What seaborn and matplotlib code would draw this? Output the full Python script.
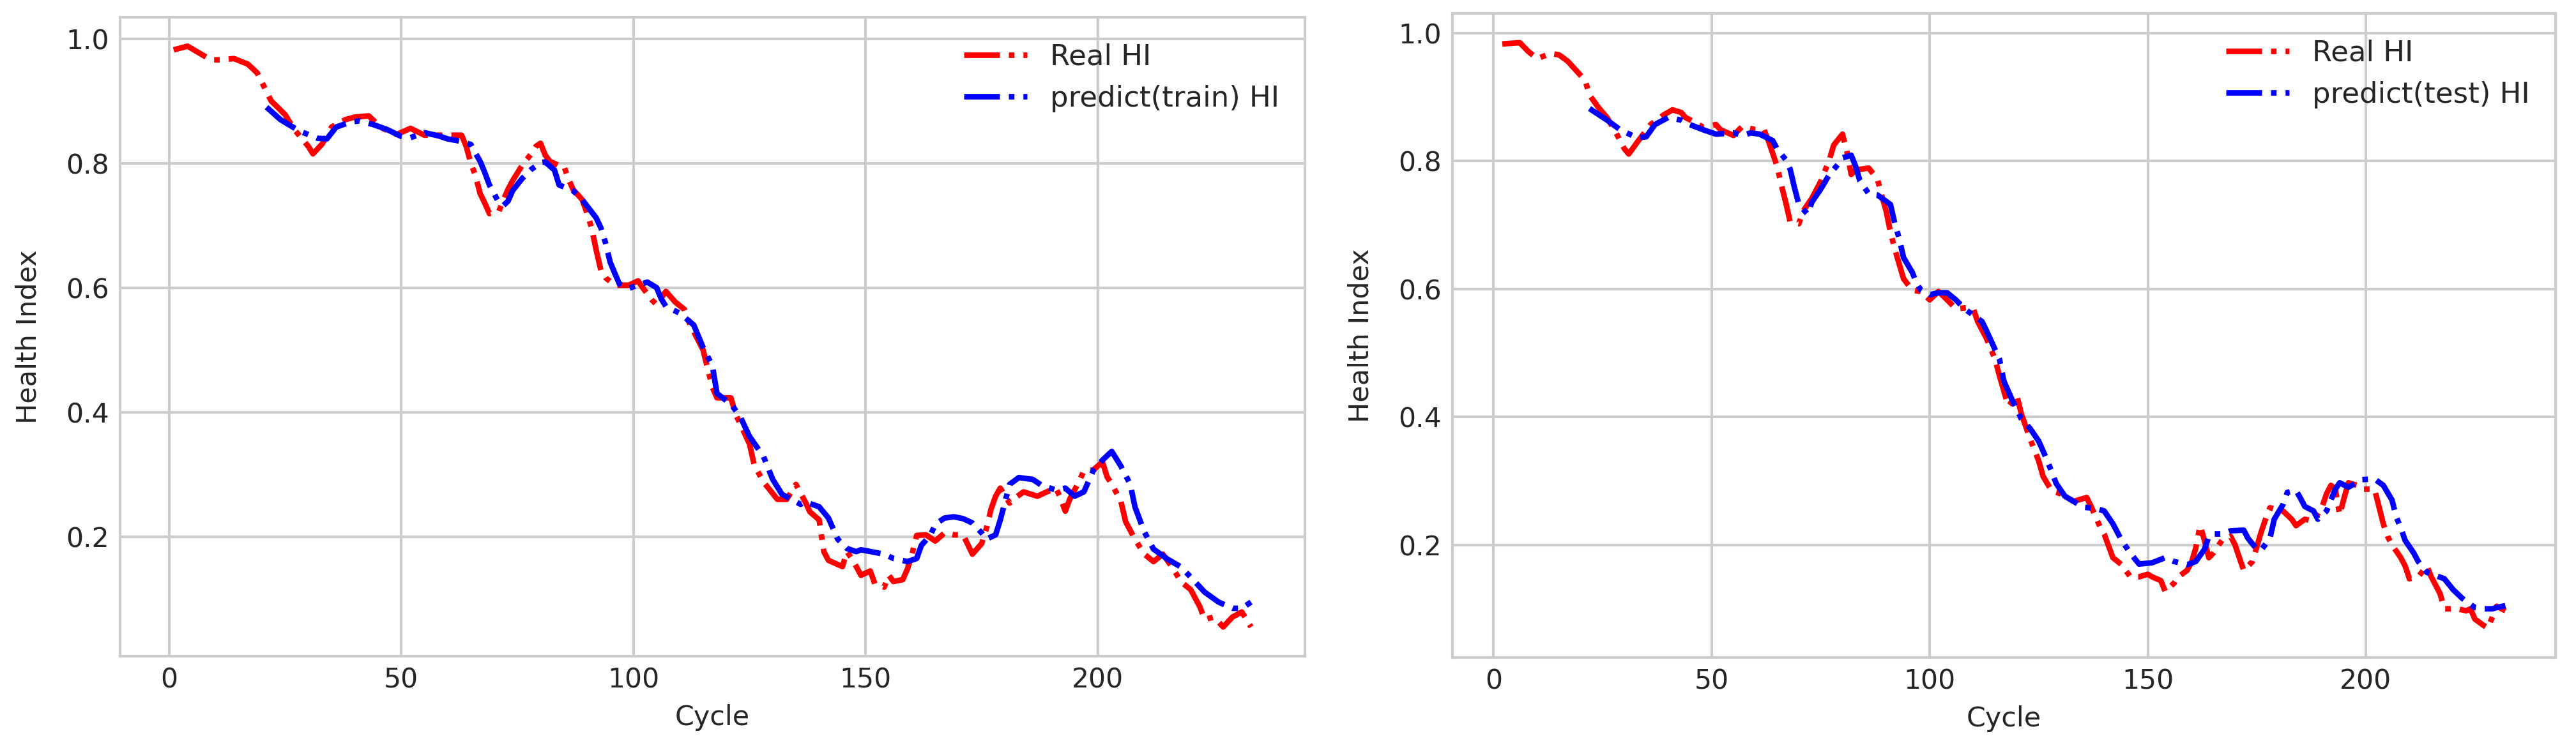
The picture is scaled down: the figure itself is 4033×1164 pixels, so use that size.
import matplotlib
matplotlib.use("Agg")
import matplotlib.pyplot as plt
import seaborn as sns
import pandas as pd

# ---------------- data ----------------
train_real_cycle = [1, 4, 9, 11, 14, 17, 19, 22, 25, 27, 30, 31, 33, 35, 38, 40, 43, 45, 46, 49,
                    52, 55, 57, 60, 63, 64, 65, 66, 67, 68, 69, 71, 72, 73, 74, 76, 78, 79, 80, 81,
                    82, 84, 85, 86, 87, 89, 90, 91, 92, 93, 94, 96, 99, 101, 102, 104, 105, 107, 109, 111,
                    112, 115, 117, 118, 121, 122, 124, 125, 126, 128, 131, 133, 135, 137, 138, 140, 141, 142, 145, 146,
                    147, 148, 149, 151, 152, 154, 155, 156, 158, 159, 160, 161, 163, 165, 167, 169, 171, 173, 175, 176,
                    177, 178, 179, 181, 182, 184, 187, 189, 191, 192, 193, 194, 196, 197, 199, 201, 202, 203, 205, 206,
                    208, 210, 212, 214, 216, 218, 220, 222, 223, 225, 227, 229, 231, 233]
train_real_hi = [0.982, 0.988, 0.966, 0.966, 0.968, 0.959, 0.945, 0.900, 0.878, 0.854, 0.827, 0.815, 0.831, 0.858, 0.870, 0.874, 0.876, 0.862, 0.856, 0.846,
                 0.856, 0.845, 0.845, 0.845, 0.845, 0.827, 0.800, 0.780, 0.751, 0.736, 0.719, 0.722, 0.741, 0.758, 0.772, 0.796, 0.815, 0.827, 0.832, 0.813,
                 0.803, 0.796, 0.796, 0.775, 0.758, 0.741, 0.720, 0.696, 0.660, 0.628, 0.616, 0.604, 0.604, 0.611, 0.600, 0.580, 0.573, 0.594, 0.577, 0.565,
                 0.544, 0.500, 0.440, 0.423, 0.423, 0.397, 0.365, 0.349, 0.316, 0.288, 0.260, 0.260, 0.284, 0.256, 0.240, 0.227, 0.176, 0.162, 0.152, 0.176,
                 0.165, 0.152, 0.138, 0.145, 0.124, 0.119, 0.138, 0.128, 0.131, 0.148, 0.172, 0.202, 0.203, 0.193, 0.206, 0.203, 0.203, 0.172, 0.189, 0.213,
                 0.244, 0.265, 0.278, 0.254, 0.261, 0.272, 0.265, 0.272, 0.278, 0.261, 0.241, 0.261, 0.289, 0.306, 0.307, 0.320, 0.296, 0.285, 0.256, 0.224,
                 0.196, 0.172, 0.160, 0.172, 0.151, 0.127, 0.115, 0.087, 0.067, 0.071, 0.055, 0.071, 0.079, 0.055]

train_pred_cycle = [21, 24, 28, 32, 34, 36, 39, 41, 44, 47, 50, 52, 55, 58, 60, 63, 65, 66, 67, 68,
                    69, 71, 72, 73, 74, 76, 78, 80, 81, 83, 84, 87, 89, 92, 93, 94, 95, 96, 97, 99,
                    101, 103, 105, 106, 107, 110, 113, 115, 117, 118, 121, 123, 125, 128, 130, 132, 136, 137, 140, 142,
                    144, 146, 148, 149, 154, 156, 159, 161, 162, 164, 165, 167, 169, 171, 173, 175, 176, 178, 179, 180,
                    181, 183, 186, 188, 191, 193, 195, 197, 198, 199, 201, 203, 205, 207, 208, 210, 212, 215, 218, 220,
                    223, 226, 229, 231, 233]
train_pred_hi = [0.890, 0.870, 0.852, 0.840, 0.839, 0.858, 0.866, 0.868, 0.862, 0.854, 0.843, 0.841, 0.849, 0.844, 0.839, 0.835, 0.830, 0.816, 0.803, 0.785,
                 0.765, 0.737, 0.732, 0.739, 0.756, 0.775, 0.790, 0.801, 0.802, 0.789, 0.765, 0.756, 0.741, 0.712, 0.696, 0.672, 0.641, 0.623, 0.606, 0.599,
                 0.604, 0.609, 0.600, 0.582, 0.570, 0.559, 0.540, 0.504, 0.475, 0.430, 0.413, 0.393, 0.361, 0.329, 0.292, 0.268, 0.252, 0.256, 0.248, 0.230,
                 0.196, 0.181, 0.176, 0.179, 0.172, 0.165, 0.160, 0.165, 0.186, 0.203, 0.220, 0.230, 0.232, 0.229, 0.222, 0.206, 0.196, 0.203, 0.227, 0.255,
                 0.284, 0.295, 0.292, 0.282, 0.275, 0.278, 0.265, 0.272, 0.289, 0.306, 0.323, 0.337, 0.313, 0.284, 0.248, 0.208, 0.180, 0.164, 0.151, 0.135,
                 0.111, 0.095, 0.085, 0.085, 0.095]

test_real_cycle = [2, 6, 8, 10, 13, 15, 17, 19, 21, 22, 24, 26, 28, 30, 31, 33, 36, 39, 41, 43,
                   44, 46, 48, 51, 52, 55, 57, 60, 62, 63, 64, 65, 66, 67, 68, 70, 71, 73, 75, 77,
                   78, 80, 81, 82, 83, 86, 88, 89, 90, 91, 92, 93, 94, 96, 98, 100, 102, 104, 106, 109,
                   110, 111, 112, 113, 115, 116, 118, 120, 121, 123, 125, 126, 128, 130, 133, 136, 137, 139, 140, 142,
                   144, 146, 148, 150, 151, 153, 154, 156, 157, 159, 160, 161, 162, 163, 164, 165, 167, 169, 170, 171,
                   172, 174, 175, 176, 177, 178, 181, 183, 184, 186, 188, 190, 191, 192, 193, 194, 195, 196, 198, 199,
                   202, 203, 204, 205, 206, 208, 209, 210, 212, 214, 215, 217, 218, 221, 223, 224, 225, 227, 228, 229,
                   230, 232]
test_real_hi = [0.983, 0.985, 0.971, 0.960, 0.968, 0.966, 0.956, 0.941, 0.926, 0.903, 0.884, 0.868, 0.845, 0.819, 0.811, 0.830, 0.857, 0.872, 0.880, 0.876,
                0.868, 0.861, 0.853, 0.857, 0.849, 0.840, 0.854, 0.849, 0.849, 0.832, 0.812, 0.792, 0.762, 0.735, 0.705, 0.702, 0.722, 0.742, 0.768, 0.802,
                0.825, 0.842, 0.815, 0.779, 0.786, 0.789, 0.772, 0.746, 0.722, 0.689, 0.662, 0.639, 0.616, 0.598, 0.596, 0.583, 0.596, 0.583, 0.569, 0.571,
                0.569, 0.549, 0.536, 0.523, 0.490, 0.464, 0.417, 0.433, 0.405, 0.366, 0.331, 0.307, 0.284, 0.280, 0.268, 0.274, 0.260, 0.229, 0.217, 0.180,
                0.169, 0.150, 0.150, 0.154, 0.150, 0.144, 0.127, 0.140, 0.150, 0.160, 0.172, 0.195, 0.230, 0.207, 0.180, 0.187, 0.207, 0.213, 0.200, 0.180,
                0.160, 0.174, 0.197, 0.220, 0.240, 0.258, 0.253, 0.240, 0.230, 0.240, 0.237, 0.260, 0.280, 0.293, 0.287, 0.247, 0.273, 0.297, 0.293, 0.287,
                0.287, 0.260, 0.233, 0.213, 0.200, 0.180, 0.167, 0.147, 0.150, 0.167, 0.150, 0.124, 0.100, 0.100, 0.097, 0.100, 0.084, 0.074, 0.070, 0.087,
                0.104, 0.097]

test_pred_cycle = [22, 26, 29, 33, 35, 37, 40, 43, 45, 48, 51, 55, 57, 59, 61, 64, 65, 67, 68, 69,
                   70, 72, 73, 75, 77, 79, 80, 82, 83, 84, 85, 86, 88, 91, 92, 93, 94, 96, 97, 98,
                   100, 102, 104, 106, 108, 110, 112, 113, 116, 117, 119, 121, 123, 125, 127, 129, 131, 133, 135, 138,
                   140, 142, 144, 146, 148, 151, 154, 156, 159, 161, 163, 164, 165, 167, 169, 172, 173, 175, 176, 178,
                   179, 181, 182, 184, 185, 186, 188, 189, 191, 192, 193, 194, 196, 199, 202, 204, 206, 207, 208, 209,
                   211, 212, 214, 216, 218, 220, 222, 224, 225, 227, 229, 230, 232]
test_pred_hi = [0.882, 0.864, 0.849, 0.836, 0.838, 0.857, 0.868, 0.864, 0.857, 0.849, 0.842, 0.844, 0.840, 0.844, 0.842, 0.832, 0.819, 0.802, 0.787, 0.758,
                0.732, 0.717, 0.736, 0.756, 0.779, 0.795, 0.805, 0.809, 0.792, 0.769, 0.759, 0.749, 0.747, 0.732, 0.702, 0.679, 0.649, 0.626, 0.609, 0.598,
                0.591, 0.594, 0.594, 0.583, 0.569, 0.559, 0.549, 0.535, 0.490, 0.456, 0.425, 0.397, 0.382, 0.362, 0.331, 0.296, 0.276, 0.268, 0.259, 0.257,
                0.253, 0.233, 0.207, 0.187, 0.170, 0.172, 0.180, 0.174, 0.169, 0.174, 0.193, 0.213, 0.217, 0.217, 0.222, 0.223, 0.210, 0.193, 0.192, 0.210,
                0.240, 0.263, 0.282, 0.285, 0.273, 0.260, 0.253, 0.240, 0.253, 0.270, 0.287, 0.297, 0.290, 0.302, 0.303, 0.293, 0.270, 0.243, 0.227, 0.207,
                0.187, 0.174, 0.157, 0.152, 0.147, 0.130, 0.117, 0.107, 0.102, 0.100, 0.100, 0.102, 0.105]

real_label = "Real HI"
train_label = "predict(train) HI"
test_label = "predict(test) HI"
x_label = "Cycle"
y_label = "Health Index"

# ---------------- style ----------------
sns.set_theme(style="whitegrid")
plt.rcParams.update({
    "font.family": ["DejaVu Sans"],
    "axes.edgecolor": "0.8",
    "grid.color": "0.8",
    "axes.linewidth": 1.0,
    "grid.linewidth": 1.0,
    "xtick.labelsize": 10.2,
    "ytick.labelsize": 10.2,
    "axes.labelsize": 10.3,
    "legend.fontsize": 10.8,
    "text.color": "0.15",
    "axes.labelcolor": "0.15",
    "xtick.color": "0.15",
    "ytick.color": "0.15",
})

W, H = 4033, 1164
DPI = 300
fig = plt.figure(figsize=(W / DPI, H / DPI), dpi=DPI)

ax1 = fig.add_axes([187.5 / W, 1 - 1027.7 / H, (2043 - 187.5) / W, (1027.7 - 26.8) / H])
ax2 = fig.add_axes([2273.5 / W, 1 - 1029.7 / H, (4001 - 2273.5) / W, (1029.7 - 21) / H])

LW = 2.1
panels = [
    (ax1, train_real_cycle, train_real_hi, train_pred_cycle, train_pred_hi, train_label),
    (ax2, test_real_cycle, test_real_hi, test_pred_cycle, test_pred_hi, test_label),
]
for ax, rc, rh, pc, ph, plabel in panels:
    df_r = pd.DataFrame({"Cycle": rc, "HI": rh})
    df_p = pd.DataFrame({"Cycle": pc, "HI": ph})
    sns.lineplot(data=df_r, x="Cycle", y="HI", ax=ax, color="red", linestyle="-.",
                 linewidth=LW, label=real_label, sort=False, estimator=None)
    sns.lineplot(data=df_p, x="Cycle", y="HI", ax=ax, color="blue", linestyle="-.",
                 linewidth=LW, label=plabel, sort=False, estimator=None)
    ax.set_xlabel(x_label)
    ax.set_ylabel(y_label, labelpad=9)
    ax.set_xticks([0, 50, 100, 150, 200])
    ax.set_yticks([0.2, 0.4, 0.6, 0.8, 1.0])
    ax.tick_params(axis="both", length=0, pad=4)
    ax.legend(loc="upper right", frameon=False, handlelength=2.2)
    for s in ax.spines.values():
        s.set_visible(True)
        s.set_color("0.8")

fig.savefig("out.png", dpi=DPI)
